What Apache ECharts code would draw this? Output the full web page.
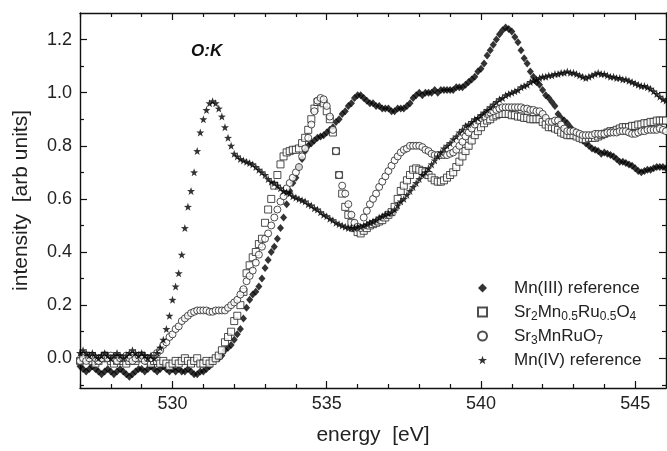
<!DOCTYPE html>
<html>
<head>
<meta charset="utf-8">
<script src="https://cdn.jsdelivr.net/npm/echarts@6/dist/echarts.min.js"></script>
<style>
html,body{margin:0;padding:0;background:#fff}
#chart{width:667px;height:451px}
</style>
</head>
<body>
<div id="chart"></div>
<script>
// energy grid: 527.0 ... 546.0 eV, step 0.1
const eStart = 527.0, eStep = 0.1, nPts = 191;
const energy = Array.from({length: nPts}, (_, i) => +(eStart + i * eStep).toFixed(1));

// Mn(III) reference (filled diamonds)
const mn3 = [
  -0.03,-0.04,-0.05,-0.04,-0.03,-0.04,-0.05,-0.06,-0.05,-0.04,
  -0.05,-0.06,-0.05,-0.04,-0.05,-0.06,-0.07,-0.06,-0.05,-0.04,
  -0.04,-0.05,-0.04,-0.03,-0.04,-0.05,-0.04,-0.03,-0.04,-0.05,
  -0.04,-0.05,-0.04,-0.05,-0.05,-0.04,-0.05,-0.06,-0.06,-0.05,
  -0.05,-0.04,-0.03,-0.01,0.0,0.0,0.01,0.03,0.04,0.05,
  0.07,0.09,0.11,0.15,0.19,0.22,0.24,0.25,0.27,0.30,
  0.34,0.37,0.40,0.42,0.45,0.49,0.53,0.58,0.63,0.66,
  0.68,0.72,0.75,0.78,0.80,0.81,0.82,0.83,0.835,0.84,
  0.85,0.86,0.87,0.89,0.90,0.92,0.93,0.95,0.96,0.98,
  0.99,0.99,0.98,0.97,0.96,0.96,0.95,0.95,0.94,0.94,
  0.94,0.93,0.93,0.94,0.94,0.94,0.95,0.96,0.98,0.99,
  1.0,0.99,1.0,1.0,1.0,1.01,1.0,1.01,1.01,1.01,
  1.01,1.01,1.02,1.02,1.02,1.03,1.04,1.05,1.06,1.08,
  1.09,1.11,1.14,1.16,1.18,1.20,1.22,1.235,1.245,1.24,
  1.23,1.21,1.19,1.16,1.13,1.11,1.08,1.06,1.04,1.03,
  1.01,0.99,0.98,0.965,0.95,0.92,0.905,0.895,0.885,0.87,
  0.855,0.84,0.835,0.82,0.81,0.80,0.79,0.785,0.78,0.77,
  0.775,0.77,0.765,0.76,0.75,0.74,0.74,0.735,0.73,0.725,
  0.715,0.705,0.70,0.705,0.71,0.71,0.715,0.72,0.72,0.72,
  0.715
];

// Sr2Mn0.5Ru0.5O4 (open squares)
const sr214 = [
  -0.01,0.0,0.01,0.0,-0.01,-0.02,-0.01,0.0,0.01,0.0,
  -0.01,-0.02,-0.01,0.0,-0.01,-0.02,-0.01,0.0,-0.01,0.0,
  0.01,0.0,-0.01,-0.02,-0.01,-0.01,-0.02,-0.01,-0.02,-0.03,
  -0.02,-0.01,-0.02,-0.01,0.0,-0.01,-0.02,-0.01,0.0,-0.02,
  -0.02,-0.01,-0.02,-0.01,0.0,0.01,0.03,0.06,0.08,0.10,
  0.14,0.16,0.20,0.25,0.32,0.35,0.38,0.40,0.43,0.45,
  0.51,0.56,0.60,0.65,0.69,0.73,0.76,0.775,0.78,0.785,
  0.785,0.79,0.81,0.83,0.86,0.90,0.94,0.965,0.97,0.96,
  0.93,0.90,0.85,0.78,0.69,0.62,0.57,0.54,0.51,0.49,
  0.475,0.47,0.48,0.49,0.50,0.505,0.51,0.515,0.52,0.53,
  0.54,0.55,0.57,0.60,0.63,0.65,0.67,0.69,0.71,0.715,
  0.71,0.705,0.70,0.69,0.68,0.67,0.665,0.665,0.67,0.68,
  0.69,0.70,0.72,0.74,0.76,0.78,0.80,0.82,0.84,0.855,
  0.87,0.885,0.895,0.90,0.91,0.915,0.92,0.92,0.92,0.92,
  0.915,0.915,0.91,0.91,0.905,0.905,0.90,0.90,0.90,0.90,
  0.89,0.88,0.87,0.87,0.865,0.86,0.85,0.845,0.84,0.84,
  0.84,0.835,0.83,0.825,0.825,0.83,0.83,0.83,0.835,0.84,
  0.845,0.85,0.855,0.855,0.86,0.865,0.87,0.87,0.87,0.875,
  0.875,0.88,0.88,0.885,0.885,0.89,0.89,0.895,0.895,0.895,
  0.895
];

// Sr3MnRuO7 (open circles)
const sr327 = [
  -0.01,0.0,-0.01,0.0,0.01,0.0,-0.01,0.0,0.01,0.0,
  0.01,0.0,-0.01,0.0,0.0,0.01,0.0,-0.01,0.0,0.01,
  0.0,-0.01,0.0,0.0,0.01,0.02,0.03,0.05,0.06,0.08,
  0.09,0.11,0.12,0.14,0.15,0.16,0.17,0.175,0.18,0.18,
  0.18,0.18,0.175,0.175,0.18,0.18,0.18,0.18,0.19,0.20,
  0.21,0.22,0.24,0.26,0.29,0.31,0.33,0.36,0.39,0.42,
  0.45,0.47,0.50,0.53,0.56,0.59,0.61,0.64,0.66,0.68,
  0.70,0.72,0.76,0.79,0.83,0.88,0.93,0.97,0.98,0.975,
  0.95,0.91,0.86,0.78,0.69,0.65,0.62,0.58,0.54,0.51,
  0.495,0.49,0.53,0.555,0.58,0.60,0.62,0.645,0.665,0.685,
  0.705,0.725,0.745,0.76,0.775,0.785,0.79,0.80,0.80,0.80,
  0.80,0.795,0.785,0.78,0.77,0.765,0.765,0.765,0.765,0.765,
  0.77,0.775,0.785,0.80,0.815,0.835,0.85,0.865,0.88,0.895,
  0.905,0.91,0.92,0.925,0.93,0.935,0.94,0.945,0.945,0.945,
  0.945,0.945,0.945,0.945,0.94,0.94,0.935,0.935,0.93,0.93,
  0.92,0.905,0.89,0.89,0.895,0.895,0.88,0.865,0.855,0.855,
  0.855,0.85,0.845,0.84,0.84,0.84,0.84,0.845,0.845,0.845,
  0.845,0.85,0.85,0.85,0.85,0.855,0.855,0.855,0.85,0.845,
  0.845,0.85,0.855,0.855,0.86,0.86,0.86,0.86,0.865,0.86,
  0.855
];

// Mn(IV) reference (stars)
const mn4 = [
  0.02,0.03,0.02,0.01,0.02,0.01,0.0,0.01,0.02,0.01,
  0.0,0.01,0.02,0.01,0.0,0.01,0.02,0.03,0.02,0.01,
  0.02,0.01,0.0,0.01,0.0,0.02,0.04,0.07,0.11,0.16,
  0.22,0.27,0.32,0.39,0.49,0.57,0.63,0.70,0.78,0.85,
  0.90,0.935,0.96,0.968,0.96,0.94,0.91,0.87,0.83,0.80,
  0.77,0.76,0.75,0.745,0.74,0.735,0.73,0.72,0.71,0.70,
  0.69,0.675,0.665,0.66,0.65,0.64,0.63,0.625,0.62,0.61,
  0.605,0.60,0.595,0.59,0.58,0.575,0.565,0.56,0.55,0.54,
  0.535,0.525,0.52,0.51,0.505,0.50,0.495,0.49,0.49,0.49,
  0.495,0.495,0.50,0.505,0.51,0.515,0.52,0.53,0.535,0.54,
  0.545,0.55,0.56,0.575,0.59,0.60,0.615,0.63,0.645,0.66,
  0.675,0.69,0.70,0.715,0.73,0.745,0.76,0.775,0.79,0.80,
  0.81,0.825,0.835,0.85,0.86,0.875,0.88,0.89,0.90,0.905,
  0.915,0.925,0.935,0.945,0.955,0.965,0.975,0.98,0.99,0.995,
  1.0,1.005,1.01,1.02,1.025,1.03,1.04,1.045,1.05,1.055,
  1.06,1.06,1.065,1.065,1.07,1.07,1.075,1.075,1.08,1.075,
  1.075,1.07,1.065,1.06,1.055,1.06,1.065,1.07,1.075,1.07,
  1.07,1.065,1.06,1.06,1.055,1.055,1.05,1.05,1.045,1.04,
  1.035,1.03,1.025,1.025,1.02,1.015,1.005,0.995,0.985,0.975,
  0.97
];

// tick positions
const xMajor = [530, 535, 540, 545];
const xMinor = [527, 528, 529, 531, 532, 533, 534, 536, 537, 538, 539, 541, 542, 543, 544, 546];
const yMajor = [0, 0.2, 0.4, 0.6, 0.8, 1.0, 1.2];
const yMinor = [-0.1, 0.1, 0.3, 0.5, 0.7, 0.9, 1.1];

const FONT = 'Liberation Sans';
const starPath = 'path://M0,-10L2.35,-3.24L9.51,-3.09L3.8,1.24L5.88,8.09L0,4L-5.88,8.09L-3.8,1.24L-9.51,-3.09L-2.35,-3.24Z';

const legendText = {
  'Mn(III) reference': 'Mn(III) reference',
  'Sr2Mn0.5Ru0.5O4': 'Sr{s|2}Mn{s|0.5}Ru{s|0.5}O{s|4}',
  'Sr3MnRuO7': 'Sr{s|3}MnRuO{s|7}',
  'Mn(IV) reference': 'Mn(IV) reference'
};

function pairs(vals) {
  return vals.map((v, i) => [energy[i], v]);
}

// one axis per tick set, all on the same grid; ticks point inward
function xAxisOf(pos, ticks, len, withLine, withLabels) {
  return {
    type: 'value', position: pos, min: 527, max: 546,
    axisLine: {show: withLine, onZero: false, lineStyle: {color: '#111', width: 1.4}},
    axisTick: {show: true, inside: true, length: len, customValues: ticks, lineStyle: {color: '#111', width: 1.2}},
    axisLabel: withLabels ? {show: true, customValues: xMajor, margin: 7, color: '#222', fontSize: 18, fontFamily: FONT} : {show: false},
    splitLine: {show: false}
  };
}
function yAxisOf(pos, ticks, len, withLine, withLabels) {
  return {
    type: 'value', position: pos, min: -0.112, max: 1.3,
    axisLine: {show: withLine, onZero: false, lineStyle: {color: '#111', width: 1.4}},
    axisTick: {show: true, inside: true, length: len, customValues: ticks, lineStyle: {color: '#111', width: 1.2}},
    axisLabel: withLabels ? {show: true, customValues: yMajor, margin: 8, color: '#222', fontSize: 18, fontFamily: FONT,
      formatter: v => v.toFixed(1)} : {show: false},
    splitLine: {show: false}
  };
}

const xMain = xAxisOf('bottom', xMajor, 7, true, true);
xMain.name = 'energy  [eV]';
xMain.nameLocation = 'middle';
xMain.nameGap = 37;
xMain.nameTextStyle = {fontSize: 21, color: '#222', fontFamily: FONT};

const yMain = yAxisOf('left', yMajor, 7, true, true);
yMain.name = 'intensity  [arb units]';
yMain.nameLocation = 'middle';
yMain.nameGap = 48;
yMain.nameTextStyle = {fontSize: 21, color: '#222', fontFamily: FONT};

const chart = echarts.init(document.getElementById('chart'));
chart.setOption({
  animation: false,
  backgroundColor: '#fff',
  textStyle: {fontFamily: FONT},
  title: {
    text: 'O:K', left: 186, top: 38,
    textStyle: {fontSize: 17, fontWeight: 'bold', fontStyle: 'italic', color: '#111', fontFamily: FONT}
  },
  grid: {left: 80, right: 1, top: 13, bottom: 59, containLabel: false},
  xAxis: [
    xMain,
    xAxisOf('bottom', xMinor, 4, false, false),
    xAxisOf('top', xMajor, 7, true, false),
    xAxisOf('top', xMinor, 4, false, false)
  ],
  yAxis: [
    yMain,
    yAxisOf('left', yMinor, 4, false, false),
    yAxisOf('right', yMajor, 7, true, false),
    yAxisOf('right', yMinor, 4, false, false)
  ],
  legend: {
    orient: 'vertical', left: 472, top: 272,
    itemWidth: 9, itemHeight: 9, itemGap: 2,
    selectedMode: false,
    formatter: name => legendText[name],
    textStyle: {
      fontSize: 17, color: '#222', fontFamily: FONT, lineHeight: 22, padding: [0, 0, 0, 22],
      rich: {s: {fontSize: 12, lineHeight: 12, verticalAlign: 'bottom', color: '#222', fontFamily: FONT}}
    },
    data: ['Mn(III) reference', 'Sr2Mn0.5Ru0.5O4', 'Sr3MnRuO7', 'Mn(IV) reference']
  },
  series: [
    {
      name: 'Mn(III) reference', type: 'scatter', symbol: 'diamond', symbolSize: [7, 8],
      itemStyle: {color: '#000'}, data: pairs(mn3)
    },
    {
      name: 'Sr2Mn0.5Ru0.5O4', type: 'scatter', symbol: 'rect', symbolSize: 7,
      itemStyle: {color: '#fff', borderColor: '#222', borderWidth: 1}, data: pairs(sr214)
    },
    {
      name: 'Sr3MnRuO7', type: 'scatter', symbol: 'circle', symbolSize: 7,
      itemStyle: {color: '#fff', borderColor: '#222', borderWidth: 1}, data: pairs(sr327)
    },
    {
      name: 'Mn(IV) reference', type: 'scatter', symbol: starPath, symbolSize: 8,
      itemStyle: {color: '#000'}, data: pairs(mn4)
    }
  ]
});
</script>
</body>
</html>
